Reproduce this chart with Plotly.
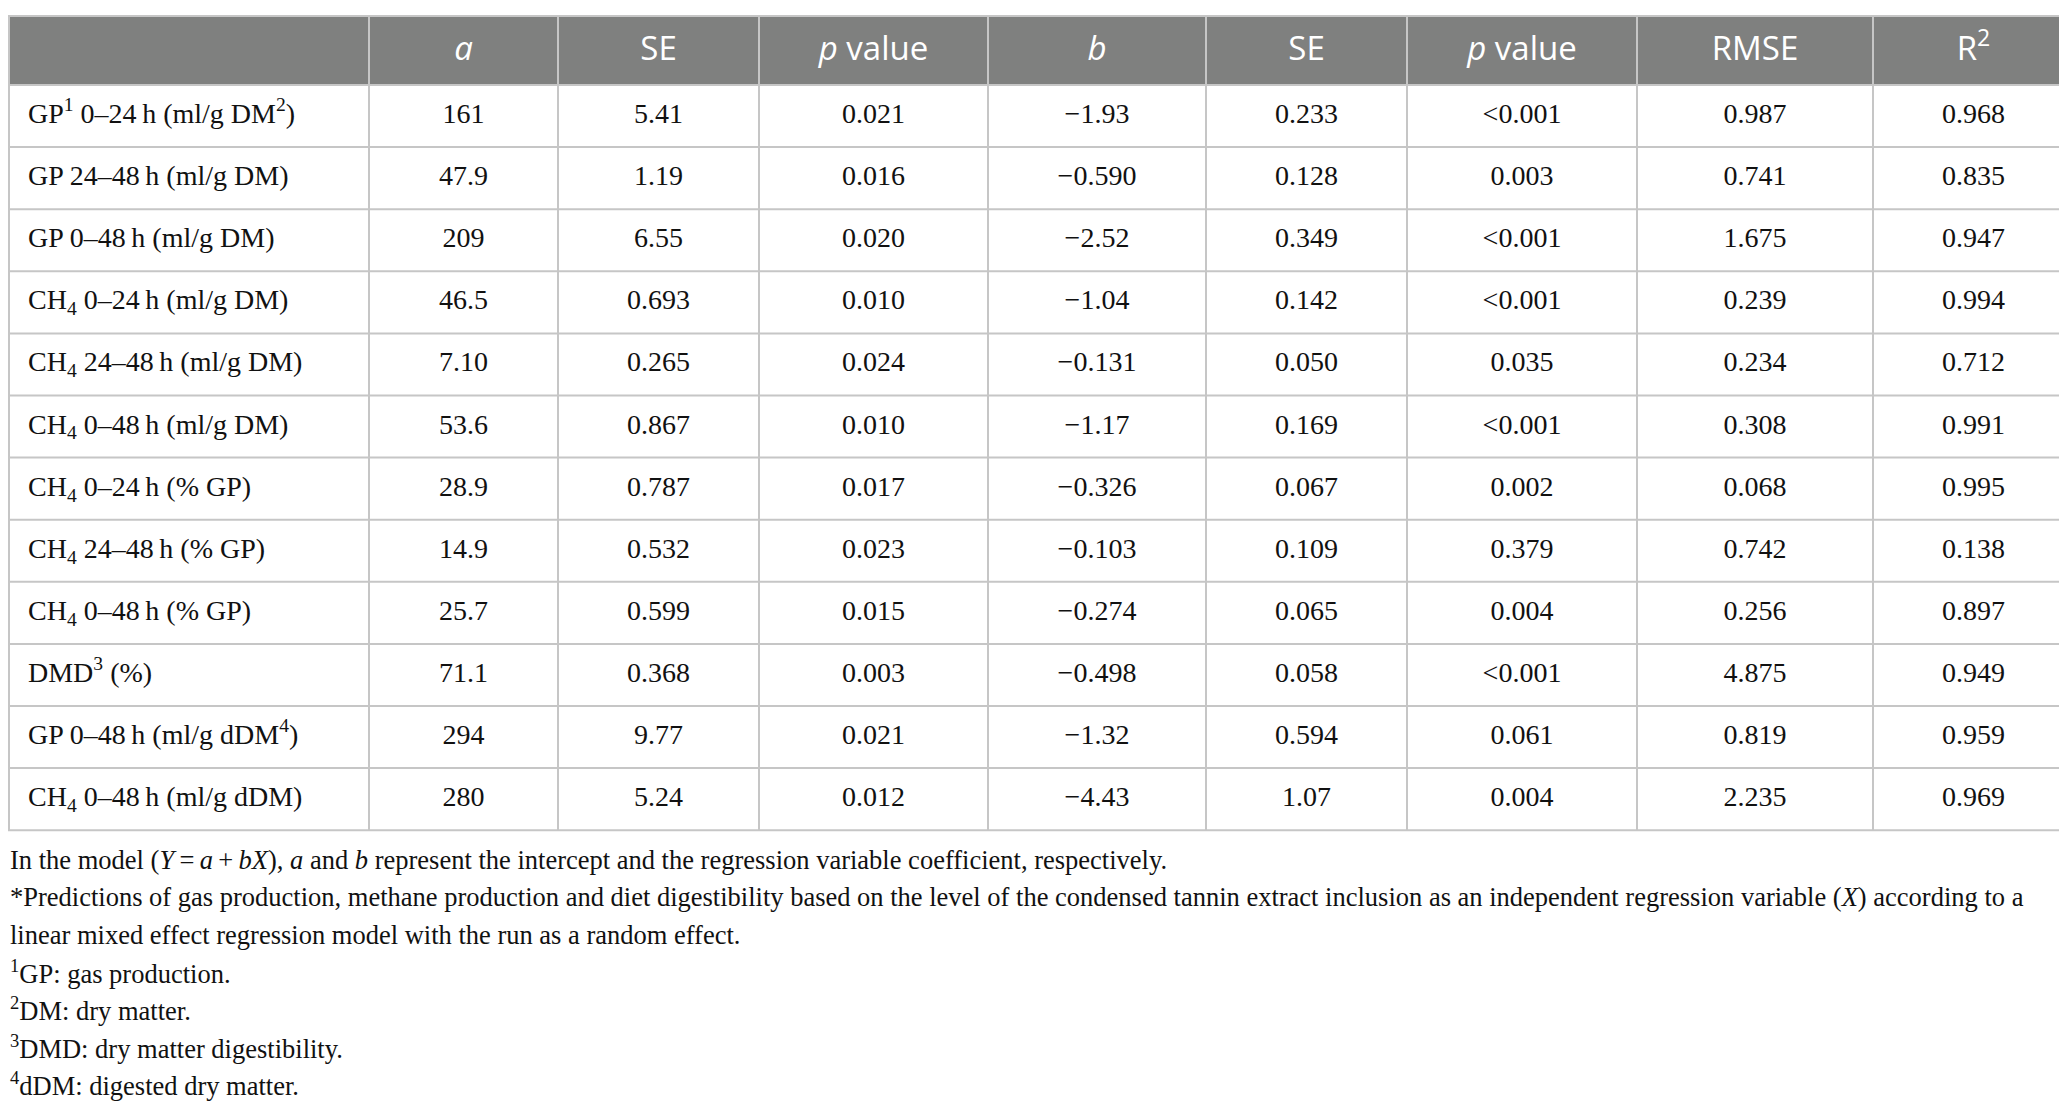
import plotly.graph_objects as go

# column headers
headers = ["", "<i>a</i>", "SE", "<i>p</i> value", "<i>b</i>", "SE", "<i>p</i> value", "RMSE", "R<sup>2</sup>"]

# row labels
variables = [
    "GP<sup>1</sup> 0–24\u2009h (ml/g DM<sup>2</sup>)",
    "GP 24–48\u2009h (ml/g DM)",
    "GP 0–48\u2009h (ml/g DM)",
    "CH<sub>4</sub> 0–24\u2009h (ml/g DM)",
    "CH<sub>4</sub> 24–48\u2009h (ml/g DM)",
    "CH<sub>4</sub> 0–48\u2009h (ml/g DM)",
    "CH<sub>4</sub> 0–24\u2009h (% GP)",
    "CH<sub>4</sub> 24–48\u2009h (% GP)",
    "CH<sub>4</sub> 0–48\u2009h (% GP)",
    "DMD<sup>3</sup> (%)",
    "GP 0–48\u2009h (ml/g dDM<sup>4</sup>)",
    "CH<sub>4</sub> 0–48\u2009h (ml/g dDM)",
]

a_vals = ["161", "47.9", "209", "46.5", "7.10", "53.6", "28.9", "14.9", "25.7", "71.1", "294", "280"]
a_se = ["5.41", "1.19", "6.55", "0.693", "0.265", "0.867", "0.787", "0.532", "0.599", "0.368", "9.77", "5.24"]
a_p = ["0.021", "0.016", "0.020", "0.010", "0.024", "0.010", "0.017", "0.023", "0.015", "0.003", "0.021", "0.012"]
b_vals = ["−1.93", "−0.590", "−2.52", "−1.04", "−0.131", "−1.17", "−0.326", "−0.103", "−0.274", "−0.498", "−1.32", "−4.43"]
b_se = ["0.233", "0.128", "0.349", "0.142", "0.050", "0.169", "0.067", "0.109", "0.065", "0.058", "0.594", "1.07"]
b_p = ["<0.001", "0.003", "<0.001", "<0.001", "0.035", "<0.001", "0.002", "0.379", "0.004", "<0.001", "0.061", "0.004"]
rmse = ["0.987", "0.741", "1.675", "0.239", "0.234", "0.308", "0.068", "0.742", "0.256", "4.875", "0.819", "2.235"]
r2 = ["0.968", "0.835", "0.947", "0.994", "0.712", "0.991", "0.995", "0.138", "0.897", "0.949", "0.959", "0.969"]

footnotes = [
    "In the model (<i>Y</i>\u2009=\u2009<i>a</i>\u2009+\u2009<i>bX</i>), <i>a</i> and <i>b</i> represent the intercept and the regression variable coefficient, respectively.",
    "*Predictions of gas production, methane production and diet digestibility based on the level of the condensed tannin extract inclusion as an independent regression variable (<i>X</i>) according to a",
    "linear mixed effect regression model with the run as a random effect.",
    "<sup>1</sup>GP: gas production.",
    "<sup>2</sup>DM: dry matter.",
    "<sup>3</sup>DMD: dry matter digestibility.",
    "<sup>4</sup>dDM: digested dry matter.",
]

columns = [variables, a_vals, a_se, a_p, b_vals, b_se, b_p, rmse, r2]

# layout of the table, in page pixels
W, H = 2067, 1103
col_edges = [0, 361, 550, 751, 980, 1198, 1399, 1629, 1865, 2066]
top, head_h, row_h = 8, 69, 62.1
n_rows = len(variables)
bottom = top + head_h + n_rows * row_h
grid = "#c6c6c6"
serif = "Liberation Serif"

row_y = [top + head_h + row_h * (i + 0.5) for i in range(n_rows)]

fig = go.Figure()

# header band
fig.add_shape(type="rect", x0=col_edges[0], x1=col_edges[-1], y0=top, y1=top + head_h,
              fillcolor="#7f807f", line_width=0, layer="below")

# horizontal rules
for k in range(n_rows + 2):
    yy = top if k == 0 else top + head_h + (k - 1) * row_h
    fig.add_shape(type="line", x0=col_edges[0], x1=col_edges[-1], y0=yy, y1=yy,
                  line=dict(color=grid, width=2))
# vertical rules
for xx in col_edges:
    fig.add_shape(type="line", x0=max(xx, 1), x1=max(xx, 1), y0=top, y1=bottom,
                  line=dict(color=grid, width=2))

# header texts
for j, h in enumerate(headers):
    if not h:
        continue
    fig.add_trace(go.Scatter(
        x=[(col_edges[j] + col_edges[j + 1]) / 2], y=[top + head_h / 2 + 1],
        text=[h], mode="text", textposition="middle center",
        textfont=dict(family="Open Sans", size=33, color="white"),
        hoverinfo="skip", showlegend=False,
    ))

# body cells
for j, col in enumerate(columns):
    if j == 0:
        xs = [col_edges[0] + 20] * n_rows
        pos = "middle right"
    else:
        xs = [(col_edges[j] + col_edges[j + 1]) / 2] * n_rows
        pos = "middle center"
    fig.add_trace(go.Scatter(
        x=xs, y=row_y, text=col, mode="text", textposition=pos,
        textfont=dict(family=serif, size=28, color="#111111"),
        hoverinfo="skip", showlegend=False,
    ))

# footnotes under the table
for i, txt in enumerate(footnotes):
    fig.add_annotation(
        text=txt, x=0, xref="x", xanchor="left",
        y=852 + i * 37.3, yref="y", yanchor="middle",
        showarrow=False, align="left",
        font=dict(family=serif, size=26.5, color="#111111"),
    )

fig.update_xaxes(range=[0, W], visible=False, fixedrange=True)
fig.update_yaxes(range=[H, 0], visible=False, fixedrange=True)
fig.update_layout(
    width=W, height=H,
    margin=dict(l=0, r=0, t=0, b=0),
    paper_bgcolor="white",
    plot_bgcolor="white",
)

fig.write_html("out.html")
